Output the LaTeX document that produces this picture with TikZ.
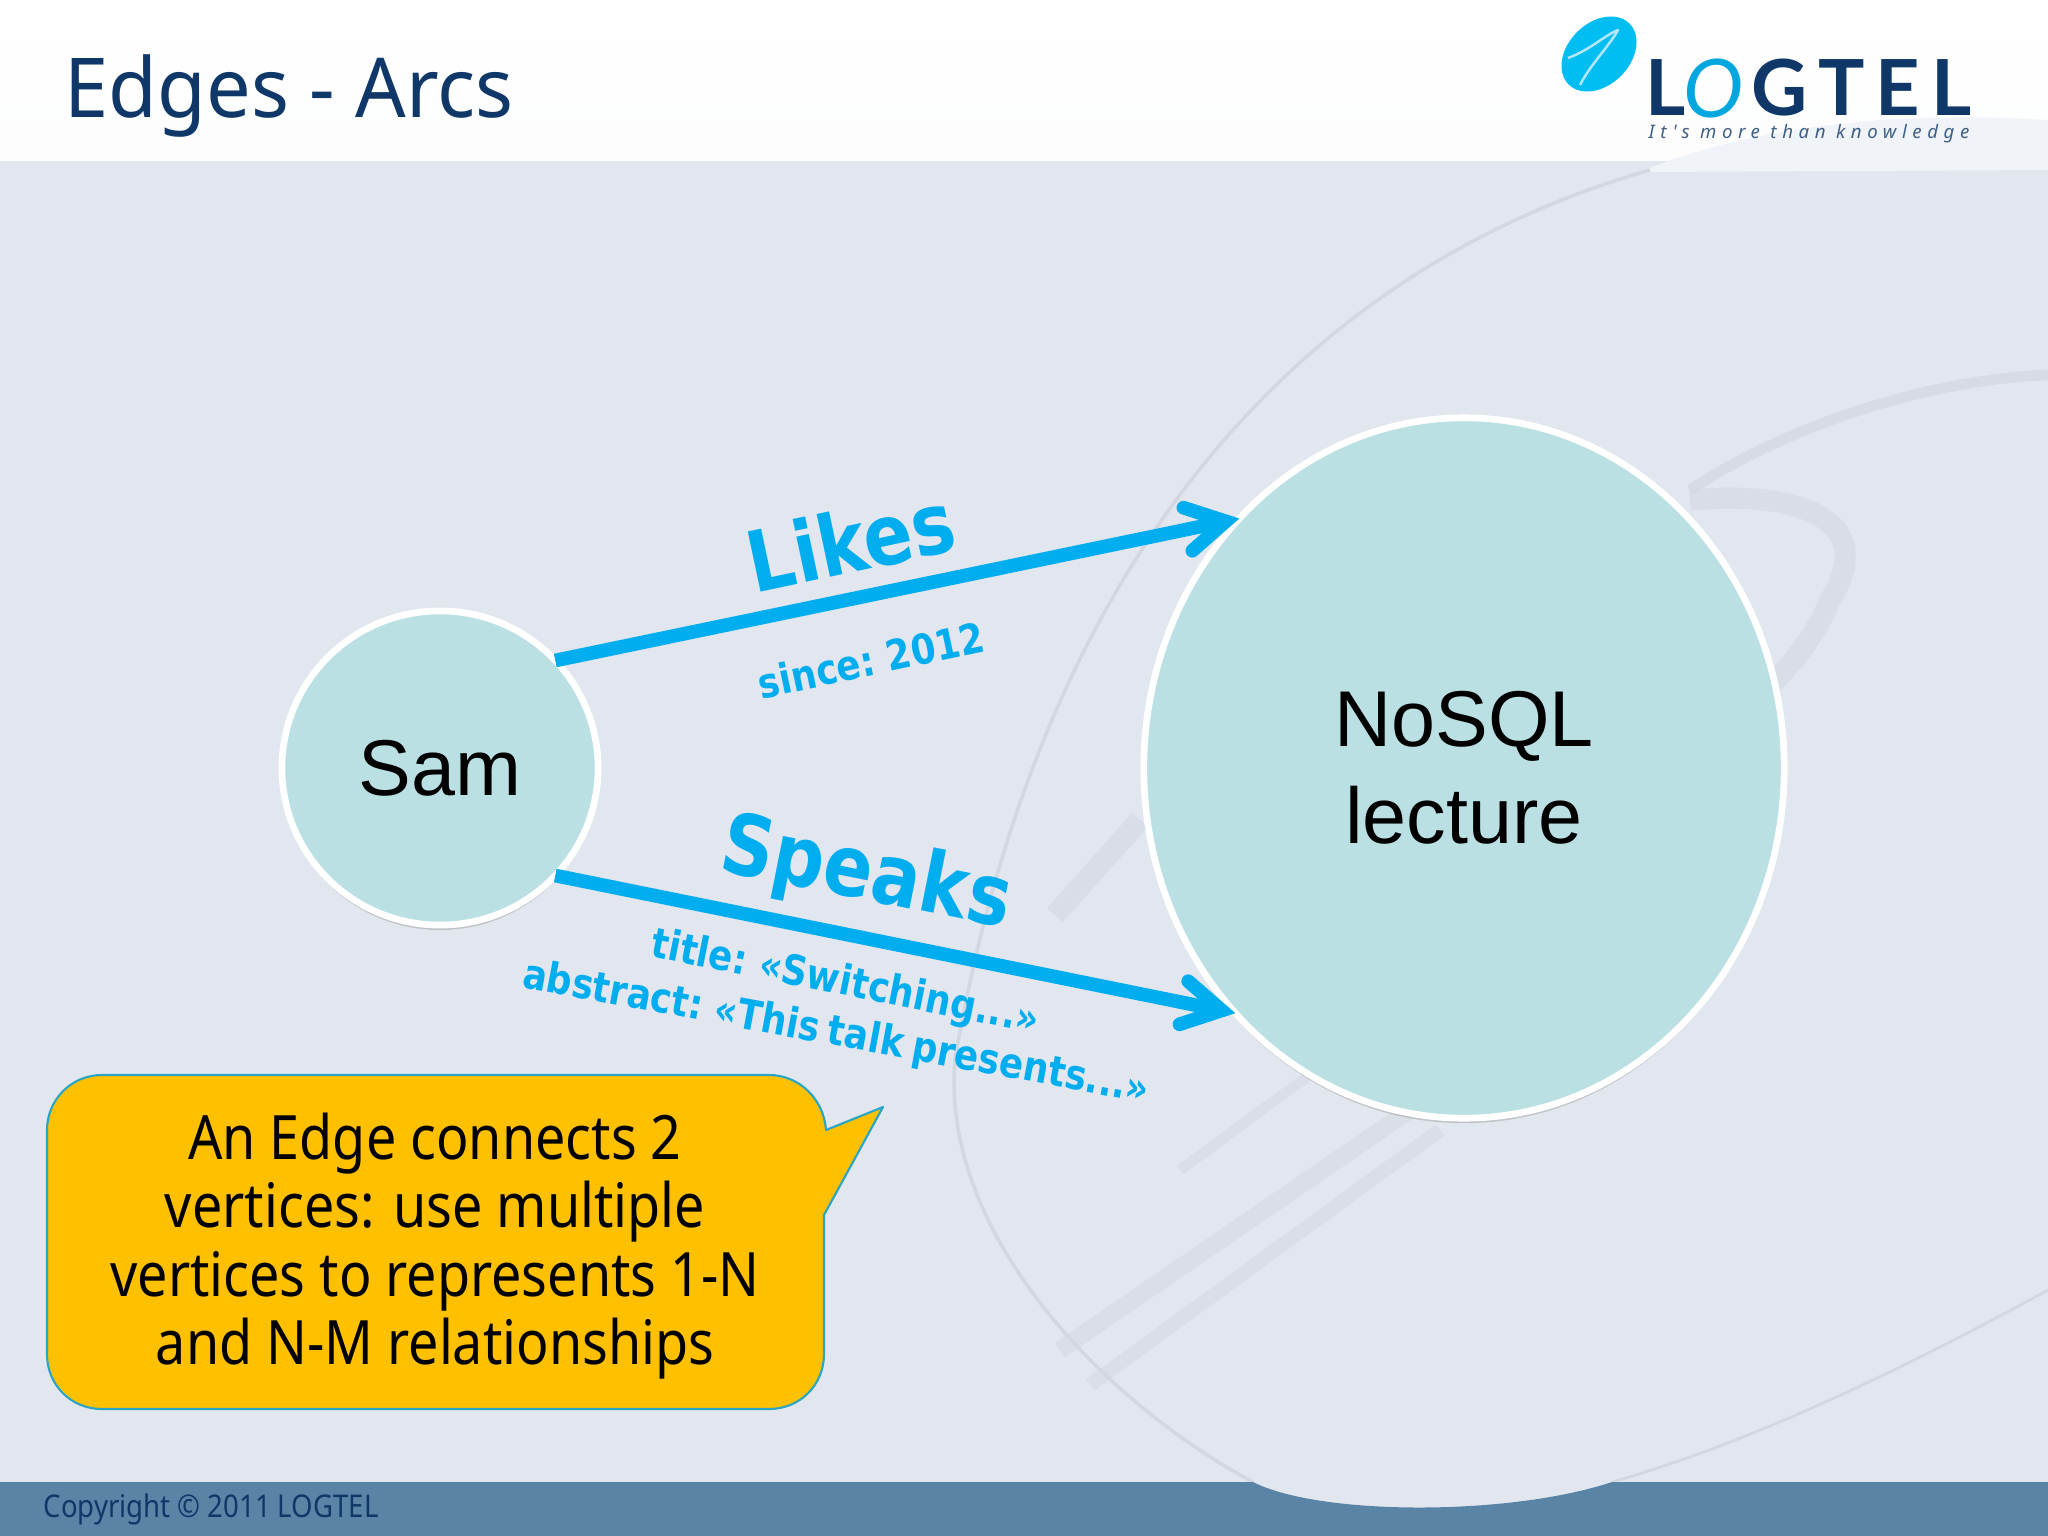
\documentclass[tikz,border=0pt]{standalone}
\usepackage{fontspec}
\setmainfont{Liberation Sans}
\newfontfamily\slidefont{Noto Sans}[FakeStretch=0.88]
\newfontfamily\headfont{Noto Sans}[FakeStretch=0.96]
\newfontfamily\edgefont{DejaVu Sans}[FakeStretch=0.86,WordSpace=0.7]
\newfontfamily\logofont{Lato}[LetterSpace=14]
\newfontfamily\sloganfont{Noto Sans}[LetterSpace=30]
\usetikzlibrary{shapes.geometric,arrows.meta,shadows}
\definecolor{slidebg}{HTML}{E2E6EE}
\definecolor{footbg}{HTML}{5A84A6}
\definecolor{swoosh}{HTML}{D3D7DF}
\definecolor{navy}{HTML}{0F3868}
\definecolor{edgeblue}{HTML}{00AEEF}
\definecolor{vertexfill}{HTML}{BBE0E3}
\definecolor{calloutfill}{HTML}{FFC000}
\definecolor{calloutline}{HTML}{2AA6C4}
\tikzset{
	vertex/.style={ellipse,draw=white,line width=1.9pt,fill=vertexfill,inner sep=0pt,outer sep=0pt,align=center,
		font=\fontsize{22.5}{27.5}\selectfont,drop shadow={shadow xshift=0pt,shadow yshift=-1.4pt,fill=black!45,opacity=.4}},
	edge/.style={line width=3.9pt,edgeblue,->,line cap=butt},
	edgename/.style={text=edgeblue,font=\edgefont\bfseries\fontsize{24}{27}\selectfont},
	edgeprop/.style={text=edgeblue,font=\edgefont\bfseries\fontsize{11.8}{14}\selectfont},
}
\begin{document}
\begin{tikzpicture}[x=0.01cm,y=-0.01cm,line join=round,>={Straight Barb[length=11pt,width=12.5pt,line cap=round]}]
	\useasboundingbox (0,0) rectangle (2048,1536);
	% background
	\fill[slidebg] (0,0) rectangle (2048,1536);
	\shade[top color=white,bottom color=white!92!slidebg] (0,0) rectangle (2048,160);
	\fill[slidebg!50!white] (1640,172) .. controls (1740,130) and (1880,110) .. (2048,120) -- (2048,170) -- cycle;
	% swoosh
	\begin{scope}[swoosh]
		\draw[line width=1pt] (1650,170) .. controls (1300,270) and (1040,560) .. (955,1060)
			.. controls (940,1230) and (1100,1400) .. (1253,1482);
		\draw[line width=.8pt] (1612,1482) .. controls (1760,1440) and (1920,1360) .. (2048,1290);
		\draw[line width=3pt,opacity=.7] (1690,490) .. controls (1780,430) and (1920,380) .. (2048,375);
		\draw[line width=6pt,opacity=.6] (1690,500) .. controls (1800,490) and (1880,520) .. (1830,600) .. controls (1810,650) and (1770,690) .. (1720,730);
		\draw[line width=6pt,opacity=.6] (1055,915) -- (1140,820);
		\draw[line width=5pt,opacity=.5] (1060,1350) -- (1410,1110);
		\draw[line width=4pt,opacity=.5] (1090,1385) -- (1440,1130);
		\draw[line width=3pt,opacity=.5] (1180,1170) -- (1330,1060);
	\end{scope}
	% footer
	\fill[footbg] (0,1482) -- (1253,1482) .. controls (1320,1516) and (1510,1516) .. (1612,1482) -- (2048,1482) -- (2048,1536) -- (0,1536) -- cycle;
	\node[anchor=west,text=navy,font=\slidefont\fontsize{8.9}{11}\selectfont,inner sep=0pt] (copyright) at (43,1509) {Copyright © 2011 LOGTEL};
	% title and logo
	\node[anchor=west,text=navy,font=\headfont\fontsize{23.5}{28}\selectfont,inner sep=0pt] (title) at (64,96) {Edges - Arcs};
	\node[ellipse,fill=edgeblue!80!cyan,inner sep=0pt,rotate=45,minimum width=.86cm,minimum height=.62cm] (logoball) at (1599,54) {};
	\draw[white!70!edgeblue,line width=.7pt] (1568,58) .. controls (1590,50) and (1605,35) .. (1618,30) .. controls (1610,45) and (1590,65) .. (1580,85);
	\node[anchor=west,text=navy,font=\logofont\bfseries\fontsize{22}{26}\selectfont,inner sep=0pt] (logoL) at (1645,88) {L};
	\node[text=edgeblue!85!teal,font=\logofont\itshape\fontsize{23}{26}\selectfont,inner sep=0pt] (logoO) at (1714,88) {O};
	\node[anchor=east,text=navy,font=\logofont\bfseries\fontsize{22}{26}\selectfont,inner sep=0pt] (logoT) at (1972,88) {GTEL};
	\node[anchor=west,text=navy!80!white,font=\sloganfont\bfseries\itshape\fontsize{5.3}{6}\selectfont,inner sep=0pt] (slogan) at (1648,134) {It's more than knowledge};
	% vertices
	\node[vertex,minimum width=3.16cm,minimum height=3.14cm] (sam) at (440,768) {Sam};
	\node[vertex,minimum width=6.4cm,minimum height=7cm] (nosql) at (1464,768) {NoSQL\\lecture};
	% edges
	\draw[edge] (sam.43) -- (nosql.132);
	\draw[edge] (sam.-43) -- (nosql.-133);
	\node[edgename,rotate=12] (likes) at (851,541) {Likes};
	\node[edgeprop,rotate=12] (since) at (871,660) {since: 2012};
	\node[edgename,rotate=-11.3] (speaks) at (866,876) {Speaks};
	\node[edgeprop,rotate=-11.3] (titleprop) at (845,984) {title: «Switching...»};
	\node[edgeprop,rotate=-10.5] (abstractprop) at (836,1034) {abstract: «This talk presents...»};
	% callout
	\path[fill=calloutfill,draw=calloutline,line width=.6pt]
		(102,1075) -- (769,1075) .. controls (800,1075) and (824,1100) .. (826,1130) -- (883,1107) -- (824,1215) -- (824,1354)
		.. controls (824,1385) and (800,1409) .. (769,1409) -- (102,1409) .. controls (71,1409) and (47,1385) .. (47,1354)
		-- (47,1130) .. controls (47,1100) and (71,1075) .. (102,1075) -- cycle;
	\node[align=center,font=\slidefont\fontsize{17.4}{19.4}\selectfont] (note) at (435,1246) {An Edge connects 2\\vertices: use multiple\\vertices to represents 1-N\\and N-M relationships};
\end{tikzpicture}
\end{document}
